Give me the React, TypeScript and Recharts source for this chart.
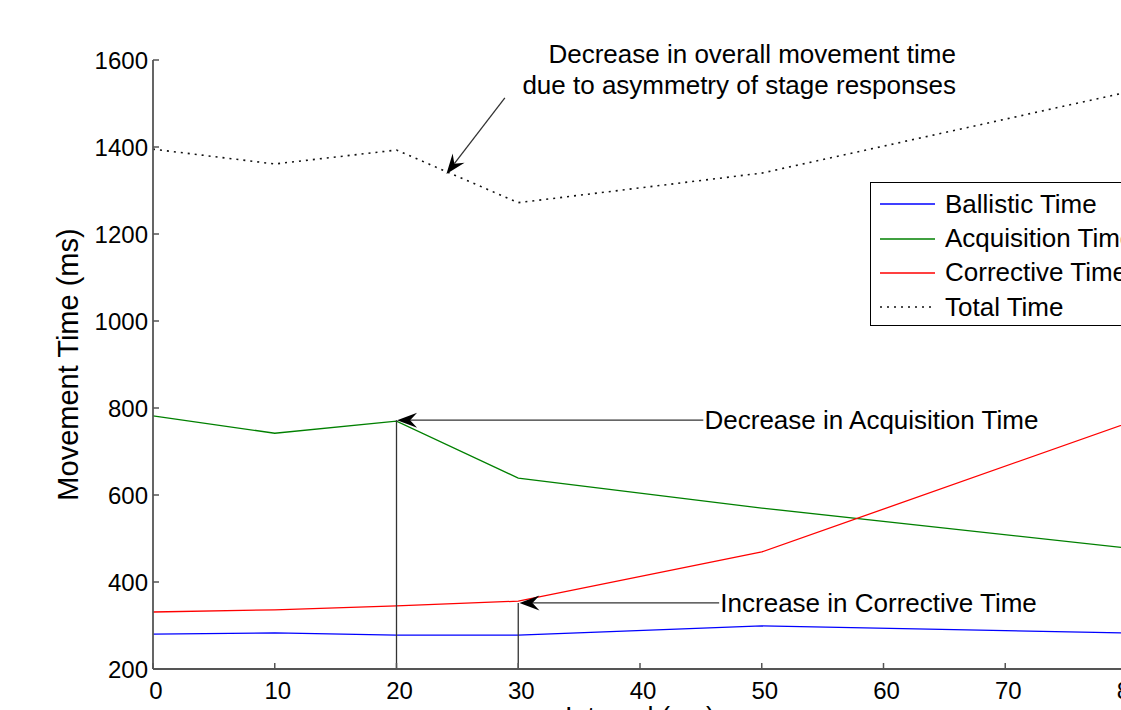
import { LineChart, Line, XAxis, YAxis, Legend, ReferenceLine, ReferenceDot } from 'recharts';

const FONT = '"Liberation Sans", Arial, Helvetica, sans-serif';
const AXIS_COLOR = '#555';

const intervals = [0, 10, 20, 30, 50, 80];
const ballistic = [280, 283, 278, 278, 299, 283];
const acquisition = [782, 742, 770, 639, 570, 478];
const corrective = [331, 336, 345, 356, 469, 765];
const total = [1395, 1361, 1393, 1272, 1340, 1526];

const xTicks = [0, 10, 20, 30, 40, 50, 60, 70, 80];
const yTicks = [200, 400, 600, 800, 1000, 1200, 1400, 1600];

const series = [
  { key: 'ballistic', name: 'Ballistic Time', color: '#0000ff', dash: undefined },
  { key: 'acquisition', name: 'Acquisition Time', color: '#008000', dash: undefined },
  { key: 'corrective', name: 'Corrective Time', color: '#ff0000', dash: undefined },
  { key: 'total', name: 'Total Time', color: '#111', dash: '2 5' },
];

const data = intervals.map((x, i) => ({
  x,
  ballistic: ballistic[i],
  acquisition: acquisition[i],
  corrective: corrective[i],
  total: total[i],
}));

const XTick = (props: any) => {
  const { x, y, payload } = props;
  return (
    <g>
      <line x1={x} y1={y} x2={x} y2={y - 6} stroke={AXIS_COLOR} strokeWidth={1.5} />
      <text x={x + 3} y={y + 30} textAnchor="middle" fontSize={24} fontFamily={FONT} fill="#000">
        {payload.value}
      </text>
    </g>
  );
};

const YTick = (props: any) => {
  const { x, y, payload } = props;
  return (
    <g>
      <line x1={x} y1={y} x2={x + 6} y2={y} stroke={AXIS_COLOR} strokeWidth={1.5} />
      <text x={x - 5} y={y + 9} textAnchor="end" fontSize={24} fontFamily={FONT} fill="#000">
        {payload.value}
      </text>
    </g>
  );
};

// line with a MATLAB-style arrow head at (x2, y2)
const arrow = (p: any) => {
  const { x1, y1, x2, y2 } = p;
  const a = Math.atan2(y2 - y1, x2 - x1);
  const L = 20;
  const W = 7.5;
  const N = 13;
  const pt = (d: number, w: number) =>
    `${x2 - d * Math.cos(a) - w * Math.sin(a)},${y2 - d * Math.sin(a) + w * Math.cos(a)}`;
  return (
    <g>
      <line x1={x1} y1={y1} x2={x2 - N * Math.cos(a)} y2={y2 - N * Math.sin(a)} stroke="#333" strokeWidth={1.3} />
      <polygon points={`${x2},${y2} ${pt(L, W)} ${pt(N, 0)} ${pt(L, -W)}`} fill="#000" />
    </g>
  );
};

const plainLine = (p: any) => (
  <line x1={p.x1} y1={p.y1} x2={p.x2} y2={p.y2} stroke="#333" strokeWidth={1.3} />
);

const note = (lines: string[], anchor: 'start' | 'end', dy: number) => (p: any) => (
  <text x={p.cx} y={p.cy + dy} textAnchor={anchor} fontSize={26} fontFamily={FONT} fill="#000">
    {lines.map((l, i) => (
      <tspan key={i} x={p.cx} dy={i === 0 ? 0 : 31}>
        {l}
      </tspan>
    ))}
  </text>
);

const renderLegend = () => (
  <div
    style={{
      border: '1.5px solid #000',
      background: '#fff',
      width: 290,
      height: 144,
      boxSizing: 'border-box',
      paddingTop: 4,
      fontFamily: FONT,
      fontSize: 26,
      color: '#000',
    }}
  >
    {series.map((s) => (
      <div key={s.key} style={{ display: 'flex', alignItems: 'center', height: 34.4 }}>
        <svg width={74} height={10} style={{ flex: 'none' }}>
          <line x1={9} y1={5} x2={64} y2={5} stroke={s.color} strokeWidth={1.3} strokeDasharray={s.dash} />
        </svg>
        <span style={{ whiteSpace: 'nowrap' }}>{s.name}</span>
      </div>
    ))}
  </div>
);

export default function App() {
  return (
    <div style={{ position: 'absolute', left: 8, top: 8, width: 1113, height: 702, overflow: 'hidden', background: '#fff' }}>
      <LineChart width={1140} height={740} data={data} margin={{ top: 52, right: 21, bottom: 0, left: 0 }}>
        <XAxis
          dataKey="x"
          type="number"
          domain={[0, 80]}
          ticks={xTicks}
          height={79}
          tickSize={0}
          tickMargin={0}
          tickLine={false}
          tick={<XTick />}
          axisLine={{ stroke: AXIS_COLOR, strokeWidth: 1.8 }}
          label={{
            content: (props: any) => {
              const vb = props.viewBox;
              return (
                <text x={vb.x + vb.width / 2} y={vb.y + 57} textAnchor="middle" fontSize={27} fontFamily={FONT} fill="#000">
                  Interval (ms)
                </text>
              );
            },
          }}
        />
        <YAxis
          type="number"
          domain={[200, 1600]}
          ticks={yTicks}
          width={145}
          tickSize={0}
          tickMargin={0}
          tickLine={false}
          tick={<YTick />}
          axisLine={{ stroke: AXIS_COLOR, strokeWidth: 1.8 }}
          label={{
            content: (props: any) => {
              const vb = props.viewBox;
              const cx = vb.x + 60;
              const cy = vb.y + vb.height / 2;
              return (
                <text
                  x={cx}
                  y={cy}
                  transform={`rotate(-90 ${cx} ${cy})`}
                  textAnchor="middle"
                  dominantBaseline="central"
                  fontSize={29}
                  fontFamily={FONT}
                  fill="#000"
                >
                  Movement Time (ms)
                </text>
              );
            },
          }}
        />
        <Legend
          content={renderLegend}
          layout="vertical"
          align="center"
          verticalAlign="middle"
          wrapperStyle={{ left: 862, top: 174, width: 290, height: 144 }}
        />
        {series.map((s) => (
          <Line
            key={s.key}
            dataKey={s.key}
            name={s.name}
            type="linear"
            stroke={s.color}
            strokeWidth={s.dash ? 1.6 : 1.3}
            strokeDasharray={s.dash}
            dot={false}
            activeDot={false}
            isAnimationActive={false}
          />
        ))}

        <ReferenceLine segment={[{ x: 20, y: 772 }, { x: 20, y: 200 }]} shape={plainLine} ifOverflow="visible" />
        <ReferenceLine segment={[{ x: 30, y: 352 }, { x: 30, y: 200 }]} shape={plainLine} ifOverflow="visible" />
        <ReferenceLine segment={[{ x: 28.9, y: 1513 }, { x: 24.1, y: 1338 }]} shape={arrow} ifOverflow="visible" />
        <ReferenceLine segment={[{ x: 45.2, y: 772 }, { x: 20.05, y: 772 }]} shape={arrow} ifOverflow="visible" />
        <ReferenceLine segment={[{ x: 46.5, y: 352 }, { x: 30.1, y: 352 }]} shape={arrow} ifOverflow="visible" />

        <ReferenceDot
          x={65.95}
          y={1593}
          r={0}
          ifOverflow="visible"
          shape={note(['Decrease in overall movement time', 'due to asymmetry of stage responses'], 'end', 0)}
        />
        <ReferenceDot x={45.3} y={772} r={0} ifOverflow="visible" shape={note(['Decrease in Acquisition Time'], 'start', 9)} />
        <ReferenceDot x={46.6} y={352} r={0} ifOverflow="visible" shape={note(['Increase in Corrective Time'], 'start', 9)} />
      </LineChart>
    </div>
  );
}
